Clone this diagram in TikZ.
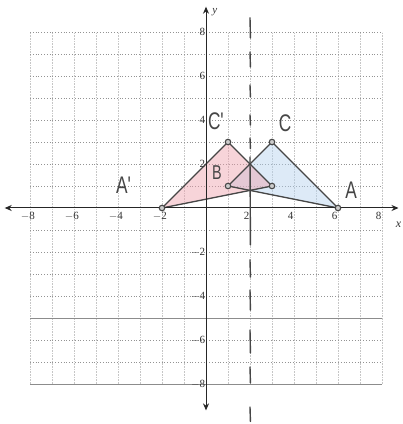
\documentclass[tikz,border=0pt]{standalone}
\usepackage{fontspec}
\setmainfont{Liberation Serif}
\newfontfamily\handfont{Liberation Sans}
\usetikzlibrary{arrows.meta}
\definecolor{pencil}{RGB}{70,70,70}
\definecolor{pinkfill}{RGB}{238,160,172}
\definecolor{bluefill}{RGB}{180,210,238}
\tikzset{
  hgrid/.style={gray!85, line width=0.8pt, dotted},
  hsolid/.style={gray!90, line width=0.7pt},
  vgrid/.style={gray!45, line width=0.6pt, densely dotted},
  axisline/.style={black!85, line width=1pt, {Stealth[length=7pt,width=6pt]}-{Stealth[length=7pt,width=6pt]}},
  tick/.style={font=\fontsize{11}{11}\selectfont, inner sep=1pt, text=black!80},
  tri/.style={draw=pencil, line width=1.3pt, line join=round},
  vtx/.style={circle, draw=pencil, line width=1.1pt, fill=gray!40, inner sep=0pt, minimum size=5.5pt},
  handlab/.style={font=\handfont\fontsize{24}{24}\selectfont, text=pencil, inner sep=0pt, xscale=0.72},
  refl/.style={draw=pencil, line width=1.4pt, line cap=round}
}
\begin{document}
\begin{tikzpicture}[x=1pt,y=1pt]
\useasboundingbox (0,0) rectangle (403,424);
\fill[white] (0,0) rectangle (403,424);
\begin{scope}[shift={(206pt,216pt)}, x=22pt, y=22pt]
  % grid
  \foreach \i in {-8,...,8} \draw[vgrid] (\i,-8) -- (\i,8);
  \foreach \j in {-8,-7,-6,-4,-3,-2,-1,1,2,3,4,5,6,7,8} \draw[hgrid] (-8,\j) -- (8,\j);
  \foreach \j in {-5,-8} \draw[hsolid] (-8,\j) -- (8,\j);
  % triangles
  \coordinate (A) at (6,0);
  \coordinate (B) at (1,1);
  \coordinate (C) at (3,3);
  \coordinate (A1) at (-2,0);
  \coordinate (B1) at (3,1);
  \coordinate (C1) at (1,3);
  \fill[bluefill, opacity=0.45] (C) -- (A) -- (B) -- cycle;
  \fill[pinkfill, opacity=0.45] (A1) -- (C1) -- (B1) -- cycle;
  \draw[tri] (C) -- (A) -- (B) -- cycle;
  \draw[tri] (A1) -- (C1) -- (B1) -- cycle;
  % axes
  \coordinate (xl) at (-9.15,0);
  \coordinate (xr) at (8.75,0);
  \coordinate (yb) at (0,-9.2);
  \coordinate (yt) at (0,9.15);
  \draw[axisline] (xl) -- (xr);
  \draw[axisline] (yb) -- (yt);
  \foreach \i in {-8,-6,-4,-2} \node[tick, anchor=north] (tx\i) at (\i-0.1,-0.15) {$-$\the\numexpr-\i\relax};
  \foreach \i in {2,4,6,8} \node[tick, anchor=north] (tx\i) at (\i-0.15,-0.15) {\i};
  \foreach \j in {2,4,6,8} \node[tick, anchor=east] (ty\j) at (0.02,\j) {\j};
  \foreach \j in {2,4,6,8} \node[tick, anchor=east] (tyn\j) at (0.02,-\j) {$-$\j};
  \node[tick, font=\itshape\fontsize{12}{12}\selectfont] (xlab) at (8.75,-0.75) {x};
  \node[tick, font=\itshape\fontsize{11}{11}\selectfont] (ylab) at (0.4,8.9) {y};
  % vertices
  \foreach \p in {A,B,C,A1,B1,C1} \node[vtx] (v\p) at (\p) {};
  % line of reflection x = 2 (hand drawn dashes)
  \foreach \a/\b in {8.64/7.73, 7.09/6.41, 5.59/5.05, 4.23/3.77, 3.18/2.7, 2.32/-1.68, -2.36/-3.14, -3.73/-4.64, -5.55/-6.59, -7.23/-7.95, -9.05/-9.7}
    \draw[refl] (2,\a) -- (2.02,\b);
  % hand written labels
  \node[handlab] (lA1) at (-3.75,1.05) {A'};
  \node[handlab] (lC1) at (0.45,3.95) {C'};
  \node[handlab] (lC) at (3.6,3.85) {C};
  \node[handlab, font=\handfont\fontsize{20}{20}\selectfont] (lB) at (0.5,1.6) {B};
  \node[handlab] (lA) at (6.6,0.8) {A};
\end{scope}
\end{tikzpicture}
\end{document}
